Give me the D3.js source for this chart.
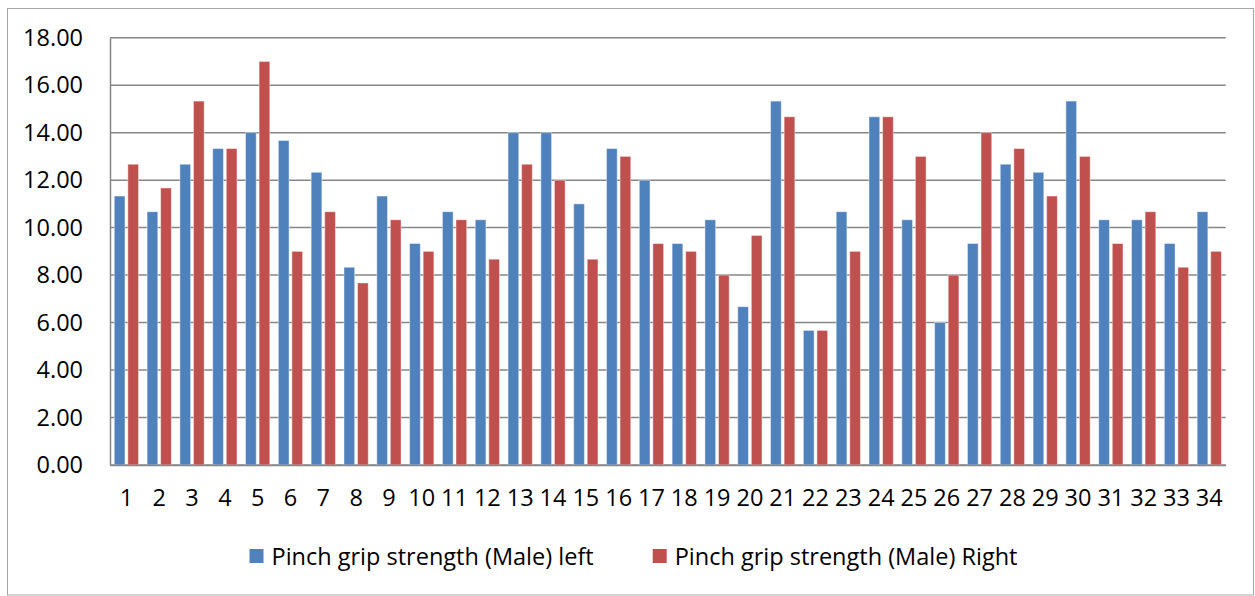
<!DOCTYPE html>
<html>
<head>
<meta charset="utf-8">
<script src="https://cdn.jsdelivr.net/npm/d3@7"></script>
<style>
  html, body { margin: 0; padding: 0; background: #ffffff; }
  svg { display: block; font-family: "Open Sans", "Noto Sans", sans-serif; }
</style>
</head>
<body>
<svg id="chart" width="1255" height="596"></svg>
<script>
// Subjects 1..34
const categories = d3.range(1, 35).map(String);

// Pinch grip strength (Male), left hand
const leftValues = [
  11.33, 10.67, 12.67, 13.33, 14.00, 13.67, 12.33, 8.33, 11.33, 9.33,
  10.67, 10.33, 14.00, 14.00, 11.00, 13.33, 12.00, 9.33, 10.33, 6.67,
  15.33, 5.67, 10.67, 14.67, 10.33, 6.00, 9.33, 12.67, 12.33, 15.33,
  10.33, 10.33, 9.33, 10.67
];

// Pinch grip strength (Male), right hand
const rightValues = [
  12.67, 11.67, 15.33, 13.33, 17.00, 9.00, 10.67, 7.67, 10.33, 9.00,
  10.33, 8.67, 12.67, 12.00, 8.67, 13.00, 9.33, 9.00, 8.00, 9.67,
  14.67, 5.67, 9.00, 14.67, 13.00, 8.00, 14.00, 13.33, 11.33, 13.00,
  9.33, 10.67, 8.33, 9.00
];

const seriesNames = [
  "Pinch grip strength (Male) left",
  "Pinch grip strength (Male) Right"
];
const seriesColors = ["#4F81BD", "#C0504D"];

const yTicks = [0, 2, 4, 6, 8, 10, 12, 14, 16, 18];

const fontSize = 23.5;
const gridColor = "#868686";

const svg = d3.select("#chart");

// chart frame
svg.append("rect")
  .attr("x", 7.5).attr("y", 8.5)
  .attr("width", 1246).attr("height", 586.5)
  .attr("fill", "#ffffff")
  .attr("stroke", "#a6a6a6")
  .attr("stroke-width", 1);

const plot = { left: 110, right: 1225.7, top: 37.7, bottom: 465 };

const x = d3.scaleBand()
  .domain(categories)
  .range([plot.left, plot.right])
  .paddingInner(0.26)
  .paddingOuter(0.13);

const xs = d3.scaleBand()
  .domain([0, 1])
  .range([0, x.bandwidth()])
  .paddingInner(0.21)
  .paddingOuter(0);

const y = d3.scaleLinear()
  .domain([0, 18])
  .range([plot.bottom, plot.top]);

// horizontal gridlines
svg.append("g")
  .selectAll("line")
  .data(yTicks)
  .join("line")
  .attr("x1", plot.left)
  .attr("x2", plot.right)
  .attr("y1", d => y(d))
  .attr("y2", d => y(d))
  .attr("stroke", gridColor)
  .attr("stroke-width", 1.5);

// y axis labels
const yAxis = svg.append("g")
  .attr("transform", `translate(${plot.left},0)`)
  .call(d3.axisLeft(y).tickValues(yTicks).tickFormat(d3.format(".2f")).tickSize(0).tickPadding(27));
yAxis.select(".domain").attr("stroke", gridColor).attr("stroke-width", 1.5);
yAxis.selectAll("text")
  .attr("font-size", fontSize)
  .attr("font-family", "'Open Sans', sans-serif")
  .attr("fill", "#000");

// bars
const groups = svg.append("g")
  .selectAll("g")
  .data(categories.map((c, i) => ({ c, vals: [leftValues[i], rightValues[i]] })))
  .join("g")
  .attr("transform", d => `translate(${x(d.c)},0)`);

groups.selectAll("rect")
  .data(d => d.vals.map((v, k) => ({ v, k })))
  .join("rect")
  .attr("x", d => xs(d.k))
  .attr("width", xs.bandwidth())
  .attr("y", d => y(d.v))
  .attr("height", d => y(0) - y(d.v))
  .attr("fill", d => seriesColors[d.k])
  .attr("stroke", "rgba(255,255,255,0.45)")
  .attr("stroke-width", 1);

// x axis
const xAxis = svg.append("g")
  .attr("transform", `translate(0,${plot.bottom})`)
  .call(d3.axisBottom(x).tickSize(0).tickPadding(24));
xAxis.select(".domain").attr("stroke", gridColor).attr("stroke-width", 1.5);
xAxis.selectAll("text")
  .attr("font-size", fontSize)
  .attr("font-family", "'Open Sans', sans-serif")
  .attr("fill", "#000");

// legend
const legendItems = [
  { name: seriesNames[0], color: seriesColors[0], x: 249.5 },
  { name: seriesNames[1], color: seriesColors[1], x: 652.7 }
];
const legend = svg.append("g")
  .selectAll("g")
  .data(legendItems)
  .join("g")
  .attr("transform", d => `translate(${d.x},549)`);
legend.append("rect")
  .attr("width", 14).attr("height", 14)
  .attr("fill", d => d.color);
legend.append("text")
  .attr("x", 22)
  .attr("y", 15.5)
  .attr("font-size", fontSize)
  .attr("fill", "#000")
  .text(d => d.name);
</script>
</body>
</html>
